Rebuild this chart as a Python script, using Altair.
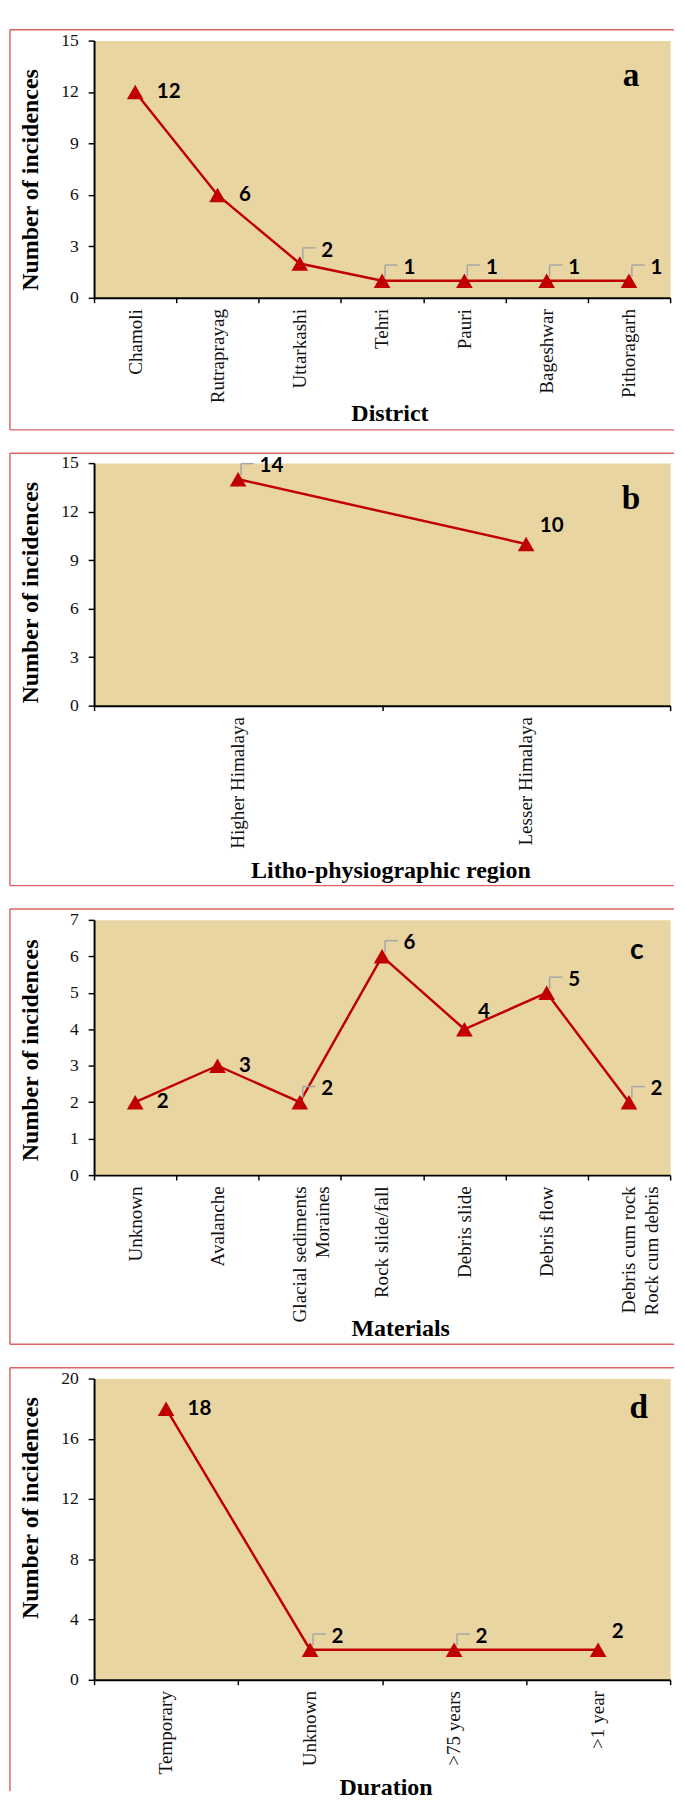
import altair as alt
import pandas as pd

# ---------------- data ----------------
district = ["Chamoli", "Rutraprayag", "Uttarkashi", "Tehri", "Pauri", "Bageshwar", "Pithoragarh"]
district_n = [12, 6, 2, 1, 1, 1, 1]
district_pos = ["r", "r", "l", "l", "l", "l", "l"]

region = ["Higher Himalaya", "Lesser Himalaya"]
region_n = [14, 10]
region_pos = ["l", "u"]

material = ["Unknown", "Avalanche", "Glacial sediments|Moraines", "Rock slide/fall",
            "Debris slide", "Debris flow", "Debris cum rock|Rock cum debris"]
material_n = [2, 3, 2, 6, 4, 5, 2]
material_pos = ["r", "r", "l", "l", "u", "l", "l"]

duration = ["Temporary", "Unknown", ">75 years", ">1 year"]
duration_n = [18, 2, 2, 2]
duration_pos = ["r", "l", "l", "u"]

RED = "#C00000"
BORDER = "#DC6464"
LEADER = "#A5A5A5"
SERIF = "Liberation Serif"
W = 589
LEFT = -86


def panel(cats, vals, pos, xtitle, ymax, ystep, h, border_top, border_bottom, bottom_rule,
          title_x, title_y, ytitle_y, letter, letter_x, letter_y, letter_font, letter_size):
    df = pd.DataFrame({"cat": cats, "n": vals, "pos": pos})
    deco = pd.DataFrame({"k": [0]})
    nbsp = "\u00a0" * 6
    xenc = alt.X(
        "cat:N", sort=cats, bandPosition=0.5,
        scale=alt.Scale(type="band", domain=cats, paddingInner=0, paddingOuter=0),
        axis=alt.Axis(
            title=xtitle, labelAngle=-90, labelFont=SERIF, labelFontSize=19.5,
            labelColor="#111111", labelPadding=6, labelLimit=400, labelLineHeight=23,
            labelExpr="split(replace(datum.label, 'Moraines', 'Moraines" + nbsp + "'), '|')",
            tickSize=5, tickColor="black", tickWidth=1.5, tickBand="extent",
            domainColor="black", domainWidth=2, grid=False,
            titleFont=SERIF, titleFontSize=24.5, titleFontWeight="bold", titleColor="black",
            titleX=title_x, titleY=title_y, titleBaseline="middle", titleAlign="center",
        ),
    )
    yenc = alt.Y(
        "n:Q",
        scale=alt.Scale(domain=[0, ymax], nice=False, zero=True),
        axis=alt.Axis(
            values=list(range(0, ymax + 1, ystep)), title="Number of incidences",
            labelFont=SERIF, labelFontSize=18, labelColor="#111111", labelPadding=10,
            tickSize=6, tickColor="black", tickWidth=1.5,
            domainColor="black", domainWidth=2, grid=False,
            titleFont=SERIF, titleFontSize=24.5, titleFontWeight="bold", titleColor="black",
            titleX=-65, titleY=ytitle_y, titleBaseline="middle", titleAlign="center",
        ),
    )
    base = alt.Chart(df).encode(x=xenc, y=yenc)

    layers = []
    # panel frame (left, top, bottom)
    layers.append(alt.Chart(deco).mark_rule(color=BORDER, strokeWidth=1.5).encode(
        x=alt.value(LEFT), y=alt.value(border_top), y2=alt.value(border_bottom)))
    layers.append(alt.Chart(deco).mark_rule(color=BORDER, strokeWidth=1.5).encode(
        x=alt.value(LEFT), x2=alt.value(W + 4), y=alt.value(border_top)))
    if bottom_rule:
        layers.append(alt.Chart(deco).mark_rule(color=BORDER, strokeWidth=1.5).encode(
            x=alt.value(LEFT), x2=alt.value(W + 4), y=alt.value(border_bottom)))

    layers.append(base.mark_line(color=RED, strokeWidth=2.5))
    # leader lines
    lead = base.transform_filter(alt.datum.pos == "l")
    layers.append(lead.mark_rule(color=LEADER, strokeWidth=1.5, xOffset=3, yOffset=-4, y2Offset=-16)
                  .encode(y2=alt.Y2("n:Q")))
    layers.append(lead.mark_rule(color=LEADER, strokeWidth=1.5, xOffset=3, x2Offset=16, yOffset=-16)
                  .encode(x2=alt.X2("cat:N", bandPosition=0.5)))
    layers.append(base.mark_point(shape="triangle-up", filled=True, size=290, color=RED, opacity=1))

    txt = dict(align="left", baseline="middle", font="Lato", fontWeight="bold", fontSize=21, color="black")
    layers.append(base.transform_filter(alt.datum.pos == "r").mark_text(dx=22, dy=0, **txt).encode(text="n:Q"))
    layers.append(base.transform_filter(alt.datum.pos == "l").mark_text(dx=22, dy=-13, **txt).encode(text="n:Q"))
    layers.append(base.transform_filter(alt.datum.pos == "u").mark_text(dx=14, dy=-18, **txt).encode(text="n:Q"))

    layers.append(alt.Chart(deco).mark_text(font=letter_font, fontWeight="bold", fontSize=letter_size,
                                            align="center", baseline="alphabetic", color="black").encode(
        x=alt.value(letter_x), y=alt.value(letter_y), text=alt.value(letter)))

    return alt.layer(*layers).properties(width=W, height=h)


pa = panel(district, district_n, district_pos, "District", 15, 3, 263, -11, 398, True,
           302, 118, 142, "a", 549, 46, SERIF, 34)
pb = panel(region, region_n, region_pos, "Litho-physiographic region", 15, 3, 248, -10, 432, True,
           303, 169, 132, "b", 549, 47, SERIF, 34)
pc = panel(material, material_n, material_pos, "Materials", 7, 1, 261, -11, 434, True,
           313, 157, 133, "c", 555, 40, "Lato", 29)
pd_ = panel(duration, duration_n, duration_pos, "Duration", 20, 4, 308, -11, 422, False,
            298, 110, 132, "d", 557, 40, SERIF, 34)

chart = alt.vconcat(pa, pb, pc, pd_, spacing=20).properties(
    padding={"left": 0, "top": 0, "right": 0, "bottom": 0},
    background="white",
).configure_view(fill="#E9D5A1", stroke="transparent")

chart.save("out.html", embed_options={"renderer": "svg", "actions": False})
